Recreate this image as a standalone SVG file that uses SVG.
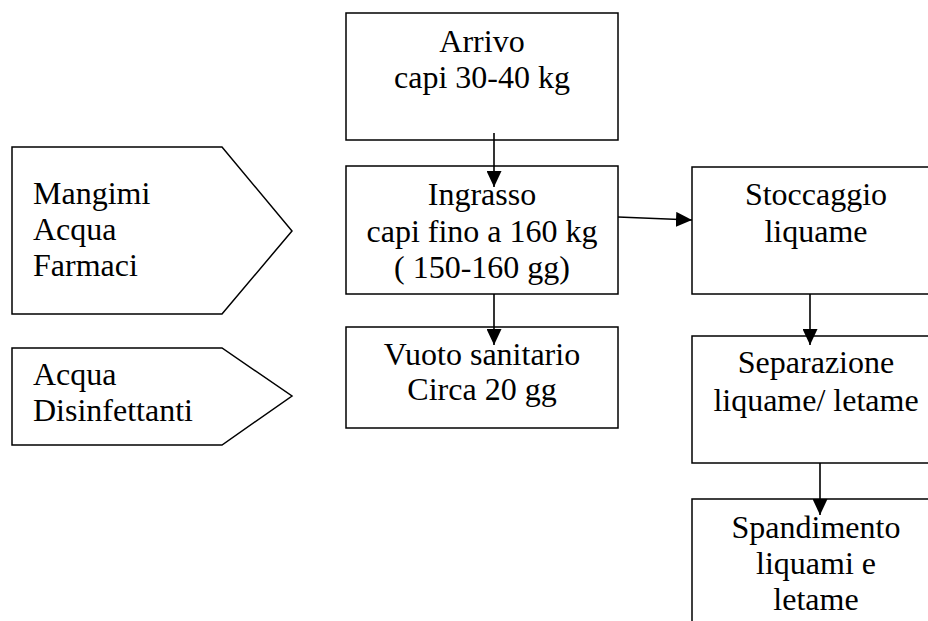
<svg xmlns="http://www.w3.org/2000/svg" width="928" height="621" viewBox="0 0 928 621">
<style>
.box{fill:#fff;stroke:#000;stroke-width:1.5}
.t{font-family:'Liberation Serif','Times New Roman',Times,'DejaVu Serif',serif;font-size:32px;fill:#000}
.c{text-anchor:middle}
.ln{stroke:#000;stroke-width:1.6;fill:none;marker-end:url(#ah)}
</style>
<defs>
<marker id="ah" viewBox="0 0 16 15" refX="16" refY="7.5" markerWidth="16" markerHeight="15" markerUnits="userSpaceOnUse" orient="auto">
<path d="M0,0 L16,7.5 L0,15 Z" fill="#000"/>
</marker>
</defs>
<g id="input1">
<polygon class="box" points="12,147 222,147 292,231 222,314 12,314"/>
<text class="t" x="33" y="204">Mangimi</text>
<text class="t" x="33" y="240">Acqua</text>
<text class="t" x="33" y="276">Farmaci</text>
</g>
<g id="input2">
<polygon class="box" points="12,348 222,348 292,396 222,445 12,445"/>
<text class="t" x="33" y="385">Acqua</text>
<text class="t" x="33" y="421">Disinfettanti</text>
</g>
<g id="arrivo">
<rect class="box" x="346" y="13" width="272" height="127"/>
<text class="t c" x="482" y="52">Arrivo</text>
<text class="t c" x="482" y="88">capi 30-40 kg</text>
</g>
<g id="ingrasso">
<rect class="box" x="346" y="166" width="272" height="128"/>
<text class="t c" x="482" y="205">Ingrasso</text>
<text class="t c" x="482" y="242">capi fino a 160 kg</text>
<text class="t c" x="482" y="278">( 150-160 gg)</text>
</g>
<g id="vuoto">
<rect class="box" x="346" y="327" width="272" height="101"/>
<text class="t c" x="482" y="365">Vuoto sanitario</text>
<text class="t c" x="482" y="400">Circa 20 gg</text>
</g>
<g id="stoccaggio">
<rect class="box" x="692" y="167" width="250" height="127"/>
<text class="t c" x="816" y="205">Stoccaggio</text>
<text class="t c" x="816" y="242">liquame</text>
</g>
<g id="separazione">
<rect class="box" x="692" y="336" width="250" height="127"/>
<text class="t c" x="816" y="373">Separazione</text>
<text class="t c" x="816" y="411">liquame/ letame</text>
</g>
<g id="spandimento">
<rect class="box" x="692" y="499" width="250" height="140"/>
<text class="t c" x="816" y="538">Spandimento</text>
<text class="t c" x="816" y="574">liquami e</text>
<text class="t c" x="816" y="610">letame</text>
</g>
<g id="connectors">
<line class="ln" x1="494" y1="133" x2="494" y2="187"/>
<line class="ln" x1="494" y1="294" x2="494" y2="345"/>
<line class="ln" x1="618" y1="217" x2="692" y2="220"/>
<line class="ln" x1="810" y1="294" x2="810" y2="345"/>
<line class="ln" x1="820" y1="463" x2="820" y2="515"/>
</g>
</svg>
